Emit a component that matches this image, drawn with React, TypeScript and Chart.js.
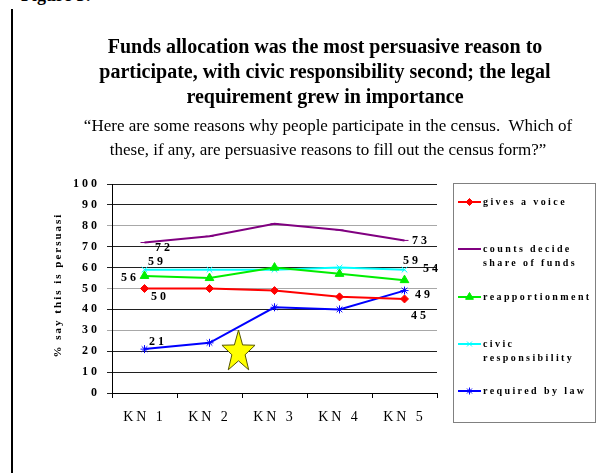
import React, { useEffect, useRef } from 'react';
import { Chart, registerables } from 'chart.js';
import { drawPoint } from 'chart.js/helpers';
Chart.register(...registerables);

const categories = ['KN 1', 'KN 2', 'KN 3', 'KN 4', 'KN 5'];
const givesVoice = [50, 50, 49, 46, 45];
const countsFunds = [72, 75, 81, 78, 73];
const reapportionment = [56, 55, 60, 57, 54];
const civicResponsibility = [59, 59, 59, 60, 59];
const requiredByLaw = [21, 24, 41, 40, 49];
const yTickValues = [0, 10, 20, 30, 40, 50, 60, 70, 80, 90, 100];
const yAxisTitle = '% say this is persuasi';
const seriesNames = ['gives a voice', 'counts decide share of funds', 'reapportionment', 'civic responsibility', 'required by law'];
const legendLines = [['gives a voice'], ['counts decide', 'share of funds'], ['reapportionment'], ['civic', 'responsibility'], ['required by law']];
// labelled points: [series index, point index]
const labelledPoints = [
  [1, 0], [3, 0], [2, 0], [0, 0], [4, 0],
  [1, 4], [3, 4], [2, 4], [4, 4], [0, 4],
];
// star annotation position (category index, value)
const starPos = { x: 1.446, y: 19.6 };

const SERIF = '"Liberation Serif", "Times New Roman", serif';

const styles = [
  { color: '#ff0000', point: 'rectRot', radius: 4, fill: true },
  { color: '#800080', point: 'line', radius: 4, fill: false },
  { color: '#00ee00', point: 'triangle', radius: 5, fill: true },
  { color: '#00ffff', point: 'crossRot', radius: 4, fill: false },
  { color: '#0000ff', point: 'star', radius: 4, fill: false },
];
// label offsets relative to the labelled point (px)
const labelOffsets = [
  [18, 5], [11, -8], [-16, 2], [14, 8], [12, -7],
  [15, 0], [6, -9], [26, -11], [18, 4], [14, 17],
];

export default function App() {
  const ref = useRef<HTMLCanvasElement>(null);
  useEffect(() => {
    const series = [givesVoice, countsFunds, reapportionment, civicResponsibility, requiredByLaw];
    const spacingPlugin = {
      id: 'spacing',
      beforeDraw(chart: any) {
        chart.ctx.letterSpacing = '3px';
      },
    };
    const extras = {
      id: 'extras',
      afterDatasetsDraw(chart: any) {
        const ctx = chart.ctx;
        ctx.save();
        ctx.letterSpacing = '3px';
        ctx.font = `bold 12px ${SERIF}`;
        ctx.fillStyle = '#000';
        ctx.textAlign = 'center';
        ctx.textBaseline = 'middle';
        labelledPoints.forEach(([s, i], k) => {
          const pt = chart.getDatasetMeta(s).data[i];
          const [dx, dy] = labelOffsets[k];
          ctx.fillText(String(series[s][i]), pt.x + dx + 1.5, pt.y + dy);
        });
        // star
        const cx = chart.scales.x.getPixelForValue(starPos.x);
        const cy = chart.scales.y.getPixelForValue(starPos.y);
        const rx = 17.4, ry = 22;
        ctx.beginPath();
        for (let j = 0; j < 10; j++) {
          const a = -Math.PI / 2 + (j * Math.PI) / 5;
          const r = j % 2 === 0 ? 1 : 0.4;
          const px = cx + Math.cos(a) * rx * r;
          const py = cy + Math.sin(a) * ry * r;
          if (j === 0) ctx.moveTo(px, py); else ctx.lineTo(px, py);
        }
        ctx.closePath();
        ctx.fillStyle = '#ffff00';
        ctx.fill();
        ctx.strokeStyle = '#555500';
        ctx.lineWidth = 1;
        ctx.stroke();
        ctx.restore();
      },
      afterDraw(chart: any) {
        const ctx = chart.ctx;
        ctx.save();
        // y axis title
        ctx.letterSpacing = '2px';
        ctx.font = `bold 11px ${SERIF}`;
        ctx.fillStyle = '#000';
        ctx.textAlign = 'center';
        ctx.textBaseline = 'middle';
        ctx.translate(58, 285);
        ctx.rotate(-Math.PI / 2);
        ctx.fillText(yAxisTitle, 0, 0);
        ctx.restore();

        ctx.save();
        ctx.letterSpacing = '2.4px';
        // legend box
        ctx.strokeStyle = '#808080';
        ctx.lineWidth = 1;
        ctx.strokeRect(453.5, 183.5, 142, 239);
        const rows = [202, 249, 297, 344, 391];
        ctx.font = `bold 10px ${SERIF}`;
        ctx.textAlign = 'left';
        ctx.textBaseline = 'middle';
        rows.forEach((y, k) => {
          const st = styles[k];
          ctx.strokeStyle = st.color;
          ctx.lineWidth = 2;
          ctx.beginPath();
          ctx.moveTo(458, y);
          ctx.lineTo(481, y);
          ctx.stroke();
          ctx.fillStyle = st.color;
          ctx.lineWidth = 1;
          drawPoint(ctx, { pointStyle: st.point, radius: st.radius - 0.5, borderWidth: 1, rotation: 0 }, 469.5, y);
          if (st.fill) ctx.fill();
          ctx.fillStyle = '#000';
          legendLines[k].forEach((line, li) => ctx.fillText(line, 483, y + li * 14));
        });
        ctx.restore();
      },
    };

    const chart = new Chart(ref.current!, {
      type: 'line',
      data: {
        labels: categories,
        datasets: series.map((d, k) => ({
          label: seriesNames[k],
          data: d,
          borderColor: styles[k].color,
          backgroundColor: styles[k].color,
          borderWidth: 2,
          pointStyle: styles[k].point as any,
          pointRadius: styles[k].radius,
          pointBorderWidth: 1,
          pointBorderColor: styles[k].color,
          pointBackgroundColor: styles[k].color,
          tension: 0,
        })),
      },
      options: {
        animation: false,
        responsive: false,
        devicePixelRatio: 1,
        layout: { padding: { top: 184, right: 172, bottom: 0, left: 0 } },
        plugins: { legend: { display: false }, tooltip: { enabled: false } },
        scales: {
          x: {
            offset: true,
            afterFit(scale: any) { scale.height = 80; },
            grid: { display: true, drawOnChartArea: false, drawTicks: true, tickLength: 5, offset: true, color: '#000' },
            border: { display: true, color: '#000', width: 1 },
            ticks: { color: '#000', padding: 11, font: { family: SERIF, size: 14 }, maxRotation: 0 },
          },
          y: {
            min: 0,
            max: 100,
            afterFit(scale: any) { scale.width = 112; },
            afterBuildTicks(scale: any) { scale.ticks = yTickValues.map((v) => ({ value: v })); },
            grid: {
              color: (c: any) => ([30, 50, 80].includes(c.tick?.value) ? '#a8a8a8' : '#202020'),
              tickLength: 5,
              lineWidth: 1,
            },
            border: { display: true, color: '#000', width: 1 },
            ticks: { color: '#000', padding: 7, font: { family: SERIF, size: 12, weight: 'bold' } },
            title: { display: false },
          },
        },
      },
      plugins: [spacingPlugin, extras],
    });
    return () => chart.destroy();
  }, []);

  return (
    <div style={{ position: 'absolute', left: 0, top: 0, width: 609, height: 473, background: '#fff', overflow: 'hidden' }}>
      <div style={{ position: 'absolute', left: 21, top: -14, font: `bold 18px ${SERIF}`, lineHeight: '18px', whiteSpace: 'nowrap' }}>Figure 5:</div>
      <div style={{ position: 'absolute', left: 11, top: 9, width: 2, height: 464, background: '#000' }} />
      <canvas ref={ref} width={609} height={473} style={{ position: 'absolute', left: 0, top: 0 }} />
      <div style={{ position: 'absolute', left: 25, top: 34, width: 600, textAlign: 'center', font: `bold 20px ${SERIF}`, lineHeight: '25px', color: '#000', whiteSpace: 'nowrap' }}>
        Funds allocation was the most persuasive reason to<br />participate, with civic responsibility second; the legal<br />requirement grew in importance
      </div>
      <div style={{ position: 'absolute', left: 28, top: 114, width: 600, textAlign: 'center', font: `17px ${SERIF}`, lineHeight: '24px', color: '#000', whiteSpace: 'nowrap' }}>
        “Here are some reasons why people participate in the census.&nbsp; Which of<br />these, if any, are persuasive reasons to fill out the census form?”
      </div>
    </div>
  );
}
